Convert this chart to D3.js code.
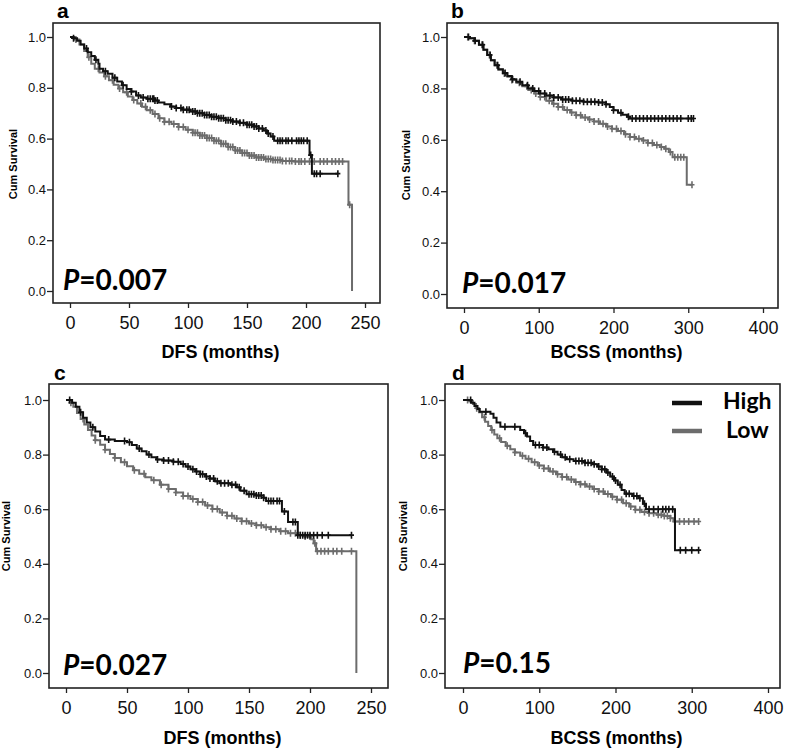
<!DOCTYPE html>
<html>
<head>
<meta charset="utf-8">
<script src="https://cdn.jsdelivr.net/npm/d3@7"></script>
<style>
  body { margin: 0; background: #fff; }
  text { font-family: "Liberation Sans", Arial, sans-serif; }
</style>
</head>
<body>
<div id="chart"></div>
<script>
// tick labels
var survTicks = [0, 0.2, 0.4, 0.6, 0.8, 1.0];
var dfsTicks = [0, 50, 100, 150, 200, 250];
var bcssTicks = [0, 100, 200, 300, 400];
var groups = ["High", "Low"];

// panel a : DFS, [months, cum survival] step points
var aHighSteps = [[0,1],[3,0.995],[6,0.985],[9,0.97],[12,0.955],[15,0.94],[18,0.925],[21,0.91],[24,0.895],[25,0.875],[28,0.865],[32,0.855],[36,0.84],[40,0.825],[44,0.81],[48,0.795],[52,0.785],[56,0.77],[60,0.762],[65,0.757],[72,0.75],[75,0.742],[80,0.735],[85,0.726],[90,0.72],[96,0.714],[102,0.707],[108,0.7],[114,0.693],[120,0.686],[126,0.68],[132,0.672],[138,0.667],[144,0.662],[150,0.655],[156,0.648],[160,0.64],[164,0.632],[167,0.62],[170,0.608],[173,0.592],[203,0.535],[205,0.462]];
var aHighEnd = 227;
var aHighCens = [3,14,22,30,38,45,52,58,62,66,68,70,71,72,74,86,90,94,96,99,101,104,106,108,110,112,114,116,118,120,122,124,126,128,130,132,134,136,138,141,144,147,150,152,154,156,158,160,163,166,168,172,176,178,180,183,185,188,192,194,196,198,201,204,207,209,212,227];
var aLowSteps = [[0,1],[4,0.99],[8,0.97],[12,0.945],[15,0.92],[18,0.895],[21,0.875],[25,0.86],[29,0.845],[33,0.83],[37,0.812],[41,0.797],[45,0.782],[49,0.766],[53,0.752],[57,0.738],[61,0.725],[65,0.712],[70,0.697],[75,0.68],[80,0.666],[86,0.657],[92,0.646],[98,0.635],[104,0.623],[110,0.612],[116,0.602],[122,0.592],[128,0.58],[134,0.567],[140,0.553],[146,0.543],[152,0.533],[158,0.526],[165,0.52],[172,0.516],[180,0.512],[190,0.51],[236,0.34],[239,0]];
var aLowEnd = 239;
var aLowCens = [5,16,24,30,36,42,48,54,60,64,68,72,76,80,84,88,92,96,100,104,106,108,110,112,114,116,118,120,122,124,126,128,130,132,134,136,138,140,142,144,146,148,150,152,154,156,158,160,162,164,166,168,170,172,174,176,178,180,183,186,188,191,194,196,199,203,207,212,215,218,222,225,228,231,237];

// panel b : BCSS
var bHighSteps = [[0,1],[8,0.995],[14,0.985],[20,0.97],[26,0.95],[31,0.93],[36,0.91],[41,0.89],[46,0.875],[52,0.86],[58,0.848],[64,0.836],[70,0.826],[78,0.812],[86,0.8],[94,0.79],[102,0.78],[110,0.772],[120,0.765],[130,0.757],[145,0.752],[160,0.748],[180,0.745],[190,0.738],[195,0.728],[200,0.715],[206,0.705],[212,0.697],[218,0.69],[222,0.683]];
var bHighEnd = 307;
var bHighCens = [6,15,25,35,45,55,65,75,85,92,100,108,115,120,126,132,136,140,145,150,155,160,165,170,175,180,185,190,200,210,220,225,230,235,240,245,250,255,260,265,270,275,280,285,290,300,304,307];
var bLowSteps = [[0,1],[8,0.995],[14,0.985],[20,0.97],[26,0.95],[31,0.93],[36,0.91],[41,0.89],[46,0.873],[52,0.858],[58,0.845],[64,0.833],[70,0.822],[78,0.808],[86,0.794],[94,0.78],[102,0.767],[110,0.752],[118,0.74],[126,0.728],[134,0.716],[142,0.706],[150,0.696],[158,0.687],[166,0.679],[174,0.671],[182,0.662],[190,0.652],[198,0.643],[206,0.634],[214,0.622],[222,0.611],[230,0.604],[238,0.597],[246,0.588],[254,0.58],[262,0.572],[268,0.565],[274,0.553],[279,0.532],[298,0.425]];
var bLowEnd = 305;
var bLowCens = [5,14,24,34,44,54,64,74,84,90,96,102,108,114,120,126,132,138,144,150,156,162,168,174,180,186,192,198,204,210,216,222,228,234,240,246,252,258,264,270,276,282,286,290,294,305];

// panel c : DFS
var cHighSteps = [[0,1],[5,0.99],[8,0.975],[11,0.955],[14,0.935],[17,0.918],[20,0.9],[24,0.885],[28,0.868],[32,0.855],[40,0.85],[50,0.845],[54,0.835],[58,0.822],[62,0.812],[66,0.8],[70,0.79],[74,0.782],[80,0.778],[88,0.774],[94,0.766],[98,0.756],[102,0.746],[106,0.738],[110,0.728],[114,0.72],[118,0.712],[122,0.702],[126,0.695],[135,0.69],[140,0.68],[143,0.668],[148,0.655],[156,0.65],[162,0.642],[164,0.63],[177,0.592],[182,0.553],[190,0.505]];
var cHighEnd = 234;
var cHighCens = [3,12,22,35,48,52,60,68,75,80,84,88,92,96,100,104,107,110,112,115,118,121,124,127,130,133,136,139,142,146,150,152,154,156,158,160,162,166,168,170,173,175,179,186,188,190,192,194,196,198,200,203,206,210,215,234];
var cLowSteps = [[0,1],[3,0.99],[6,0.975],[9,0.952],[12,0.93],[15,0.91],[18,0.89],[21,0.87],[24,0.853],[28,0.836],[32,0.818],[36,0.802],[40,0.788],[45,0.772],[50,0.757],[55,0.743],[60,0.73],[65,0.717],[70,0.706],[77,0.69],[84,0.674],[90,0.661],[96,0.648],[102,0.637],[108,0.626],[114,0.614],[120,0.601],[126,0.588],[132,0.576],[138,0.566],[144,0.556],[150,0.548],[156,0.541],[162,0.534],[168,0.527],[175,0.519],[182,0.512],[189,0.505],[196,0.5],[201,0.49],[203,0.475],[205,0.446],[238,0]];
var cLowEnd = 238;
var cLowCens = [4,14,24,32,40,48,56,64,72,78,84,90,96,100,104,108,112,116,120,124,128,132,136,140,144,148,152,156,160,164,168,172,176,180,184,188,192,196,200,204,206,209,212,215,219,222,226,234];

// panel d : BCSS
var dHighSteps = [[0,1],[11,0.99],[15,0.978],[19,0.967],[22,0.957],[36,0.95],[40,0.935],[44,0.918],[49,0.902],[75,0.89],[80,0.878],[84,0.866],[88,0.85],[92,0.835],[105,0.826],[112,0.82],[118,0.81],[124,0.8],[130,0.79],[136,0.783],[145,0.777],[160,0.77],[170,0.765],[176,0.756],[182,0.746],[188,0.734],[193,0.72],[198,0.705],[203,0.69],[208,0.67],[212,0.657],[222,0.648],[230,0.64],[236,0.62],[240,0.6],[278,0.45]];
var dHighEnd = 309;
var dHighCens = [10,30,55,68,82,95,100,105,110,120,128,134,140,148,152,156,160,164,168,172,178,182,186,190,196,200,206,214,218,224,228,232,238,244,250,256,262,266,270,275,285,292,300,309];
var dLowSteps = [[0,1],[8,0.995],[13,0.985],[17,0.97],[21,0.955],[25,0.937],[29,0.92],[33,0.905],[37,0.89],[41,0.874],[45,0.86],[50,0.846],[56,0.832],[62,0.82],[68,0.808],[75,0.796],[82,0.785],[90,0.772],[98,0.76],[106,0.749],[114,0.738],[122,0.728],[130,0.718],[138,0.709],[146,0.7],[154,0.691],[162,0.683],[170,0.674],[178,0.665],[186,0.656],[194,0.646],[202,0.635],[210,0.622],[218,0.61],[226,0.598],[234,0.59],[244,0.585],[254,0.58],[264,0.575],[272,0.567],[276,0.555]];
var dLowEnd = 309;
var dLowCens = [6,18,28,38,48,58,68,78,86,94,100,106,112,118,124,130,136,142,148,154,160,166,172,178,184,190,196,202,208,214,220,226,232,238,244,250,256,260,264,268,272,278,284,290,296,303,309];

var colors = { High: "#111", Low: "#6c6c6c" };

// layout of each panel (pixels)
var panels = [
  { letter: "a", title: "DFS (months)", p: "0.007", ticks: dfsTicks, xMax: 250,
    box: [53, 23, 380, 303], xr: [70, 365], yr: [291, 37], ylab: [13, 164], letterPos: [57, 18], pPos: [63, 290], tickY: 8, titleY: 358,
    high: [aHighSteps, aHighEnd, aHighCens], low: [aLowSteps, aLowEnd, aLowCens] },
  { letter: "b", title: "BCSS (months)", p: "0.017", ticks: bcssTicks, xMax: 400,
    box: [447, 23, 778, 308], xr: [464, 763], yr: [294, 37], ylab: [406, 165], letterPos: [451, 18], pPos: [462, 293], tickY: 8, titleY: 358,
    high: [bHighSteps, bHighEnd, bHighCens], low: [bLowSteps, bLowEnd, bLowCens] },
  { letter: "c", title: "DFS (months)", p: "0.027", ticks: dfsTicks, xMax: 250,
    box: [49, 384, 388, 688], xr: [66, 371], yr: [673, 400], ylab: [6, 536], letterPos: [54, 380], pPos: [63, 675], tickY: 8, titleY: 744,
    high: [cHighSteps, cHighEnd, cHighCens], low: [cLowSteps, cLowEnd, cLowCens] },
  { letter: "d", title: "BCSS (months)", p: "0.15", ticks: bcssTicks, xMax: 400,
    box: [445, 384, 780, 688], xr: [463, 768], yr: [673, 400], ylab: [403, 536], letterPos: [452, 380], pPos: [463, 673], tickY: 8, titleY: 744,
    high: [dHighSteps, dHighEnd, dHighCens], low: [dLowSteps, dLowEnd, dLowCens], legend: true }
];

var svg = d3.select("#chart")
  .append("svg")
  .attr("width", 787)
  .attr("height", 748);

function valueAt(steps, t) {
  var i = d3.bisector(function (d) { return d[0]; }).right(steps, t) - 1;
  return steps[Math.max(i, 0)][1];
}

panels.forEach(function (p) {
  var g = svg.append("g");
  var x = d3.scaleLinear().domain([0, p.xMax]).range(p.xr);
  var y = d3.scaleLinear().domain([0, 1]).range(p.yr);

  // frame
  g.append("rect")
    .attr("x", p.box[0]).attr("y", p.box[1])
    .attr("width", p.box[2] - p.box[0])
    .attr("height", p.box[3] - p.box[1])
    .attr("fill", "none")
    .attr("stroke", "#222")
    .attr("stroke-width", 1.6);

  // Y axis
  var ya = g.append("g")
    .attr("transform", "translate(" + p.box[0] + ",0)")
    .call(d3.axisLeft(y).tickValues(survTicks).tickFormat(d3.format(".1f")).tickSize(6).tickPadding(1));
  ya.select(".domain").remove();
  ya.selectAll("line").attr("stroke", "#222").attr("stroke-width", 1.3);
  ya.selectAll("text").style("font-size", "13px").attr("fill", "#111");

  // X axis
  var xa = g.append("g")
    .attr("transform", "translate(0," + p.box[3] + ")")
    .call(d3.axisBottom(x).tickValues(p.ticks).tickSize(5).tickPadding(p.tickY));
  xa.select(".domain").remove();
  xa.selectAll("line").attr("stroke", "#222").attr("stroke-width", 1.3);
  xa.selectAll("text").style("font-size", "18px").attr("fill", "#111");

  // axis titles
  g.append("text")
    .attr("x", (p.box[0] + p.box[2]) / 2 + 4)
    .attr("y", p.titleY)
    .attr("text-anchor", "middle")
    .style("font-size", "18px").style("font-weight", "bold")
    .text(p.title);
  g.append("text")
    .attr("transform", "translate(" + p.ylab[0] + "," + p.ylab[1] + ")rotate(-90)")
    .attr("text-anchor", "middle")
    .attr("dy", "0.35em")
    .style("font-size", "11px").style("font-weight", "bold")
    .text("Cum Survival");

  // panel letter
  g.append("text")
    .attr("x", p.letterPos[0]).attr("y", p.letterPos[1])
    .style("font-size", "21px").style("font-weight", "bold")
    .text(p.letter);

  // curves, Low under High
  var line = d3.line()
    .x(function (d) { return x(d[0]); })
    .y(function (d) { return y(d[1]); })
    .curve(d3.curveStepAfter);

  [["Low", p.low], ["High", p.high]].forEach(function (c) {
    var steps = c[1][0], end = c[1][1], cens = c[1][2];
    var pts = steps.concat([[end, steps[steps.length - 1][1]]]);
    g.append("path")
      .attr("d", line(pts))
      .attr("fill", "none")
      .attr("stroke", colors[c[0]])
      .attr("stroke-width", 2);
    g.selectAll(null)
      .data(cens)
      .enter()
      .append("path")
      .attr("d", function (t) {
        var cx = x(t), cy = y(valueAt(steps, t));
        return "M" + cx + "," + (cy - 3.5) + "V" + (cy + 3.5) + "M" + (cx - 2.5) + "," + cy + "H" + (cx + 2.5);
      })
      .attr("stroke", colors[c[0]])
      .attr("stroke-width", 1.6);
  });

  // P value
  var pt = g.append("text")
    .attr("x", p.pPos[0]).attr("y", p.pPos[1])
    .style("font-family", "Lato, 'Open Sans', sans-serif")
    .style("font-size", "28px").style("font-weight", "bold");
  pt.append("tspan").style("font-style", "italic").text("P");
  pt.append("tspan").text("=" + p.p);

  // legend
  if (p.legend) {
    var lg = g.selectAll(".lg")
      .data(groups)
      .enter()
      .append("g");
    lg.append("line")
      .attr("x1", 672).attr("x2", 702)
      .attr("y1", function (d, i) { return 403 + i * 28; })
      .attr("y2", function (d, i) { return 403 + i * 28; })
      .attr("stroke", function (d) { return colors[d]; })
      .attr("stroke-width", 4.5);
    lg.append("text")
      .attr("x", function (d, i) { return 723 + i * 3; })
      .attr("y", function (d, i) { return 409 + i * 29; })
      .style("font-family", "Lato, 'Open Sans', sans-serif")
      .style("font-size", "23px").style("font-weight", "bold")
      .text(function (d) { return d; });
  }
});
</script>
</body>
</html>
